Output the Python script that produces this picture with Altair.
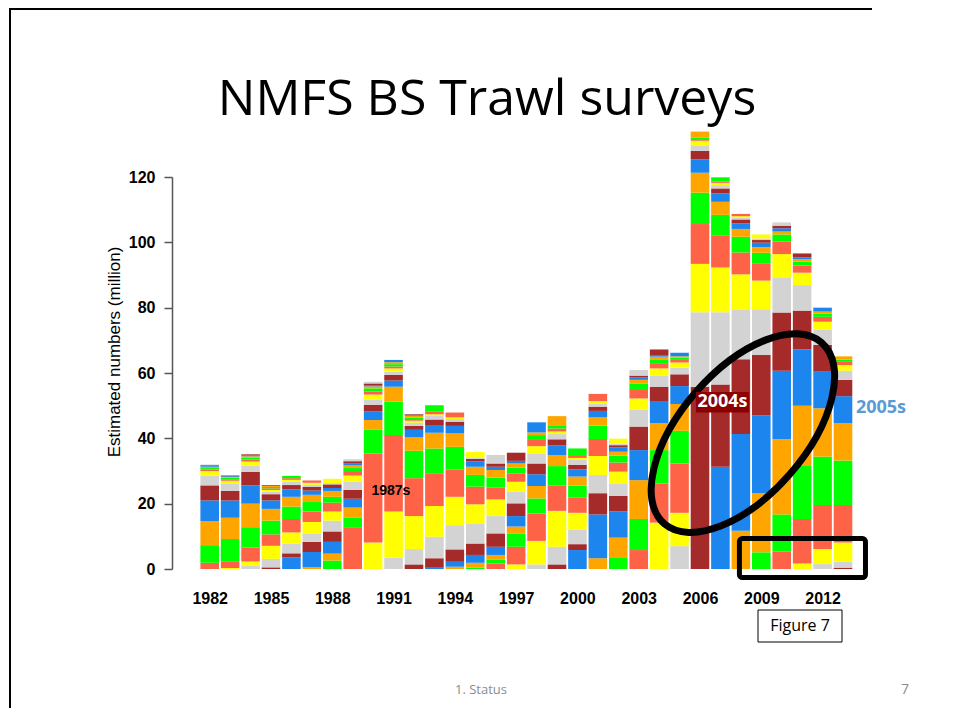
import altair as alt
import pandas as pd

# ---------------- data (numbers in millions, ages 2+ from bottom upward) ----------------
years = list(range(1982, 2014))

n1982 = [1.9, 5.4, 7.4, 6.3, 4.6, 3.0, 1.4, 0.5, 0.4, 0.4, 0.3, 0.2, 0.2]
n1983 = [0.3, 2.1, 6.8, 6.5, 5.3, 2.9, 2.1, 1.0, 0.5, 0.4, 0.3, 0.2, 0.2]
n1984 = [1.1, 1.2, 4.3, 6.2, 7.2, 5.6, 4.1, 1.9, 1.3, 0.6, 0.6, 0.4, 0.3, 0.3]
n1985 = [0.5, 2.6, 4.0, 3.5, 4.2, 3.6, 2.6, 1.9, 0.7, 0.6, 0.5, 0.4, 0.3, 0.3]
n1986 = [3.6, 1.2, 2.9, 3.5, 4.1, 3.8, 3.0, 2.3, 1.3, 1.0, 0.6, 0.5, 0.7]
n1987 = [0.6, 4.6, 3.1, 2.6, 3.5, 3.2, 2.9, 2.2, 1.3, 1.1, 0.7, 0.6, 0.7]
n1988 = [2.6, 2.1, 3.6, 3.2, 3.3, 2.8, 2.7, 1.8, 1.8, 0.9, 1.1, 0.4, 1.3]
n1989 = [12.8, 3.0, 3.0, 2.7, 2.7, 2.5, 1.9, 1.1, 1.2, 0.8, 0.7, 0.6, 0.6]
n1990 = [8.1, 27.2, 7.3, 3.0, 2.6, 2.0, 1.7, 1.5, 0.9, 1.0, 0.6, 0.4, 0.5, 0.5]
n1991 = [3.5, 14.1, 23.4, 10.2, 4.6, 1.9, 1.7, 1.0, 1.0, 0.6, 0.7, 0.6, 0.7]
n1992 = [1.4, 4.7, 10.1, 11.6, 8.4, 4.1, 2.3, 1.2, 1.0, 0.6, 0.5, 0.5, 0.5, 0.3, 0.2]
n1993 = [0.4, 2.9, 6.6, 9.4, 10.0, 7.6, 4.8, 2.4, 1.7, 1.0, 0.6, 0.7, 2.0]
n1994 = [0.7, 1.5, 3.8, 7.4, 8.7, 8.4, 6.9, 4.1, 2.3, 1.3, 0.8, 0.5, 1.5]
n1995 = [0.4, 1.5, 2.4, 3.5, 6.0, 6.0, 5.4, 3.6, 2.5, 1.6, 0.8, 0.5, 1.6]
n1996 = [1.7, 1.1, 1.5, 2.5, 4.1, 5.3, 5.1, 3.7, 3.0, 2.3, 1.0, 1.0, 2.6]
n1997 = [1.4, 5.4, 4.1, 2.1, 3.2, 3.9, 3.6, 3.0, 2.6, 1.7, 1.3, 0.8, 2.5]
n1998 = [1.4, 7.2, 8.4, 4.6, 3.8, 3.6, 3.3, 3.1, 2.2, 1.9, 1.5, 0.8, 3.1]
n1999 = [1.4, 5.4, 11.0, 7.8, 5.9, 3.4, 2.9, 1.9, 1.6, 0.8, 0.9, 1.0, 2.8]
n2000 = [5.8, 1.8, 4.5, 5.1, 4.6, 3.7, 2.8, 2.2, 1.4, 1.5, 0.6, 0.6, 2.3]
n2001 = [3.3, 13.4, 6.5, 5.6, 5.8, 5.2, 4.1, 2.5, 2.0, 1.3, 0.8, 0.9, 2.2]
n2002 = [3.6, 6.0, 8.0, 4.8, 3.8, 3.6, 2.8, 2.1, 1.2, 1.3, 0.7, 0.5, 1.5]
n2003 = [5.8, 9.5, 11.9, 9.2, 7.2, 5.1, 3.5, 2.6, 2.0, 1.1, 0.7, 0.6, 1.7]
n2004 = [14.2, 12.0, 10.2, 8.2, 6.6, 4.6, 3.3, 2.3, 1.6, 1.2, 0.8, 0.5, 1.7]
n2005 = [7.0, 10.2, 15.1, 10.0, 8.2, 5.5, 3.6, 2.0, 1.6, 0.8, 0.7, 0.4, 1.1]
n2006 = [55.8, 22.8, 14.8, 12.2, 9.6, 6.1, 4.1, 2.6, 1.7, 1.4, 0.5, 0.5, 1.8]
n2007 = [31.3, 25.2, 22.1, 13.7, 9.7, 6.4, 4.0, 2.6, 1.5, 1.0, 0.7, 0.4, 1.3]
n2008 = [11.7, 29.6, 22.9, 15.1, 10.9, 6.7, 4.8, 2.4, 1.7, 1.2, 0.6, 0.4, 0.7]
n2009 = [5.1, 18.1, 23.9, 18.4, 14.0, 8.8, 5.3, 3.2, 1.7, 1.4, 0.8, 0.5, 1.2]
n2010 = [5.3, 11.4, 23.0, 21.0, 17.8, 10.8, 7.1, 3.8, 2.2, 0.9, 1.0, 0.8, 1.0]
n2011 = [1.7, 13.6, 16.2, 18.5, 17.2, 11.9, 7.8, 3.8, 2.2, 1.2, 0.7, 0.6, 1.2]
n2012 = [1.5, 4.6, 13.5, 14.8, 14.8, 11.2, 8.2, 4.6, 2.5, 1.5, 1.0, 0.6, 1.2]
n2013 = [0.4, 1.8, 5.9, 11.5, 13.6, 11.4, 8.3, 5.0, 2.8, 1.7, 1.0, 0.7, 1.0]

counts = [n1982, n1983, n1984, n1985, n1986, n1987, n1988, n1989, n1990, n1991,
          n1992, n1993, n1994, n1995, n1996, n1997, n1998, n1999, n2000, n2001,
          n2002, n2003, n2004, n2005, n2006, n2007, n2008, n2009, n2010, n2011,
          n2012, n2013]

first_age = 2
# colour cycle of year classes (2005 class = blue, 2004 = brown, ...)
cycle_keys = ["c0", "c1", "c2", "c3", "c4", "c5", "c6"]
cycle_colors = ["#1C86EE", "#A52A2A", "#D3D3D3", "#FFFF00", "#FF6347", "#00FF00", "#FFA500"]
anchor_class = 2005

x_ticks = [1982, 1985, 1988, 1991, 1994, 1997, 2000, 2003, 2006, 2009, 2012]
y_ticks = [0, 20, 40, 60, 80, 100, 120]

rows = []
for yr, vals in zip(years, counts):
    for i, v in enumerate(vals):
        age = first_age + i
        cohort = yr - age
        rows.append({"year": yr, "age": age, "value": v,
                     "key": cycle_keys[(anchor_class - cohort) % 7]})
df = pd.DataFrame(rows)

# ---------------- scales & axes ----------------
W, H = 728, 392
AX = "Liberation Sans"
xs = alt.Scale(domain=[1980.155, 2015.79], nice=False, zero=False)
ys = alt.Scale(domain=[0, 120], nice=False, zero=False)
x_axis = alt.Axis(values=x_ticks, format="d", domain=False, ticks=False, title=None,
                  grid=False, labelPadding=21, labelFont=AX, labelFontSize=16,
                  labelFontWeight="bold", labelColor="black",
                  labelOverlap=False, labelFlush=False)
y_axis = alt.Axis(values=y_ticks, grid=False, tickSize=8, tickWidth=1.5, title=None,
                  tickColor="#555555", domainColor="#555555", domainWidth=1.5,
                  labelPadding=9, labelFont=AX, labelFontSize=16,
                  labelFontWeight="bold", labelColor="black")


def X(field):
    return alt.X(field, scale=xs, axis=x_axis, title=None)


def Y(field):
    return alt.Y(field, scale=ys, axis=y_axis, title=None)


bars = (
    alt.Chart(df)
    .transform_stack(stack="value", groupby=["year"],
                     sort=[alt.SortField("age", order="ascending")], as_=["v0", "v1"])
    .transform_calculate(xl="datum.year - 0.455", xr="datum.year + 0.455")
    .mark_rect()
    .encode(
        x=X("xl:Q"), x2="xr:Q",
        y=Y("v0:Q"), y2="v1:Q",
        color=alt.Color("key:N", scale=alt.Scale(domain=cycle_keys, range=cycle_colors),
                        legend=None),
    )
)

one = pd.DataFrame({"a": [0]})

# bottom box around recent years
box = alt.Chart(pd.DataFrame({"x": [2007.93], "x2": [2014.10], "y": [-2.6], "y2": [9.3]})).mark_rect(
    fillOpacity=0, stroke="black", strokeWidth=5, cornerRadius=3
).encode(x=X("x:Q"), x2="x2:Q", y=Y("y:Q"), y2="y2:Q")

# ellipse around 2004/2005 year classes
ellipse_path = "M -1 0 A 1 0.52 0 1 1 1 0 A 1 0.52 0 1 1 -1 0 Z"
ellipse = alt.Chart(pd.DataFrame({"x": [2008.1], "y": [41.6]})).mark_point(
    shape=ellipse_path, size=57600, angle=311, filled=False, stroke="black",
    strokeWidth=7, opacity=1
).encode(x=X("x:Q"), y=Y("y:Q"))

lab04_bg = alt.Chart(pd.DataFrame({"x": [2005.8], "x2": [2008.4], "y": [47.9], "y2": [54.2]})).mark_rect(
    color="#8B0000"
).encode(x=X("x:Q"), x2="x2:Q", y=Y("y:Q"), y2="y2:Q")


def label(x, y, t, color, size, font, weight="bold"):
    return alt.Chart(pd.DataFrame({"x": [x], "y": [y], "t": [t]})).mark_text(
        color=color, fontSize=size, font=font, fontWeight=weight,
        align="center", baseline="middle"
    ).encode(x=X("x:Q"), y=Y("y:Q"), text="t:N")


lab04 = label(2007.1, 51.0, "2004s", "white", 18, "Open Sans")
lab05 = label(2014.86, 49.3, "2005s", "#5B9BD5", 18, "Open Sans")
lab87 = label(1990.87, 23.9, "1987s", "black", 14, AX)


def ptext(x, y, t, size, color="black", font="Open Sans", weight="normal", angle=0,
          baseline="middle"):
    return alt.Chart(one).mark_text(
        fontSize=size, font=font, color=color, fontWeight=weight, angle=angle,
        align="center", baseline=baseline
    ).encode(x=alt.value(x), y=alt.value(y), text=alt.value(t))


title = ptext(315, -62, "NMFS BS Trawl surveys", 50, baseline="alphabetic")
ytitle = ptext(-57, 175, "Estimated numbers (million)", 17, font=AX, angle=270)
fig_box = alt.Chart(one).mark_rect(fill="white", stroke="black", strokeWidth=1).encode(
    x=alt.value(586), x2=alt.value(670), y=alt.value(433), y2=alt.value(465))
fig_text = ptext(628, 449, "Figure 7", 16)
footer = ptext(309, 513, "1. Status", 13, color="#8C8C8C")
pagenum = ptext(733, 513, "7", 14, color="#8C8C8C")
border_top = alt.Chart(one).mark_rect(color="black").encode(
    x=alt.value(-163), x2=alt.value(700), y=alt.value(-169), y2=alt.value(-167))
border_left = alt.Chart(one).mark_rect(color="black").encode(
    x=alt.value(-163), x2=alt.value(-161), y=alt.value(-169), y2=alt.value(531))

chart = alt.layer(
    bars, box, ellipse, lab04_bg, lab04, lab05, lab87,
    title, ytitle, fig_box, fig_text, footer, pagenum, border_top, border_left
).properties(
    width=W, height=H,
    padding={"left": 164, "top": 169, "right": 45, "bottom": 139},
    autosize=alt.AutoSizeParams(type="none"),
).configure_view(stroke=None)

chart.save("out.html", embed_options={"renderer": "svg", "actions": False})
